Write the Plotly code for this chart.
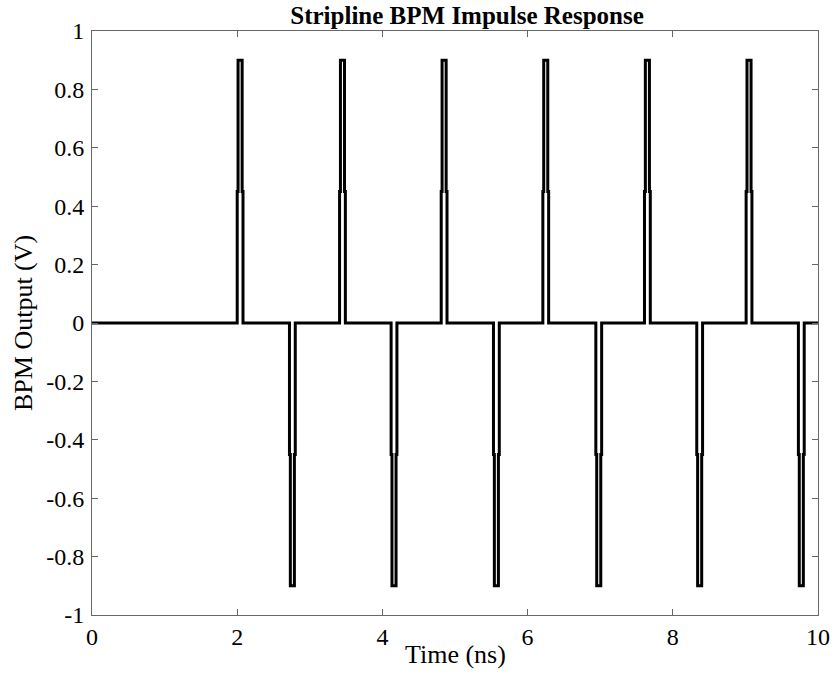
import numpy as np
import plotly.graph_objects as go

# Pulse data (ns, V)
pos_start = [2.00, 3.41, 4.81, 6.21, 7.61, 9.01]
neg_start = [2.72, 4.12, 5.53, 6.94, 8.33, 9.73]
pulse_width = 0.08
step_inset = 0.012
amp_full = 0.9
amp_half = 0.45
t_min, t_max = 0.0, 10.0

x_ticks = [0, 2, 4, 6, 8, 10]
y_ticks = [-1, -0.8, -0.6, -0.4, -0.2, 0, 0.2, 0.4, 0.6, 0.8, 1]
y_ticktext = ["-1", "-0.8", "-0.6", "-0.4", "-0.2", "0", "0.2", "0.4", "0.6", "0.8", "1"]

# Build the waveform vertices from the pulse data
events = sorted([(s, 1) for s in pos_start] + [(s, -1) for s in neg_start])
t = [t_min]
v = [0.0]
for s, sign in events:
    a, b = s, s + pulse_width
    t += [a, a, a + step_inset, a + step_inset, b - step_inset, b - step_inset, b, b]
    v += [0.0, sign * amp_half, sign * amp_half, sign * amp_full,
          sign * amp_full, sign * amp_half, sign * amp_half, 0.0]
t.append(t_max)
v.append(0.0)

fig = go.Figure()
fig.add_trace(go.Scatter(x=t, y=v, mode="lines",
                         line=dict(color="black", width=3), showlegend=False))

font = "Liberation Serif, Times New Roman, serif"
axis_common = dict(showgrid=False, zeroline=False, showline=True, mirror="ticks",
                   linecolor="#666666", linewidth=1, ticks="inside", ticklen=6,
                   tickcolor="#666666", automargin=False,
                   tickfont=dict(family=font, size=24, color="black"))
fig.update_layout(
    width=834, height=675,
    margin=dict(l=92, r=16, t=31, b=60),
    paper_bgcolor="white", plot_bgcolor="white",
    title=dict(text="<b>Stripline BPM Impulse Response</b>", x=0.56, xanchor="center",
               y=0.978, yanchor="middle", font=dict(family=font, size=25, color="black")),
    xaxis=dict(range=[0, 10], tickvals=x_ticks, ticktext=[str(x) for x in x_ticks],
               ticklabelstandoff=0, **axis_common),
    yaxis=dict(range=[-1, 1], tickvals=y_ticks, ticktext=y_ticktext,
               ticklabelstandoff=2, **axis_common),
    annotations=[
        dict(text="Time (ns)", xref="paper", yref="paper", x=0.5, y=-0.068,
             xanchor="center", yanchor="middle", showarrow=False,
             font=dict(family=font, size=26, color="black")),
        dict(text="BPM Output (V)", xref="paper", yref="paper", x=-0.095, y=0.5,
             xanchor="center", yanchor="middle", textangle=-90, showarrow=False,
             font=dict(family=font, size=26, color="black")),
    ],
)
fig.write_html("out.html", config={"displayModeBar": False},
               post_script="document.body.style.margin='0';")
